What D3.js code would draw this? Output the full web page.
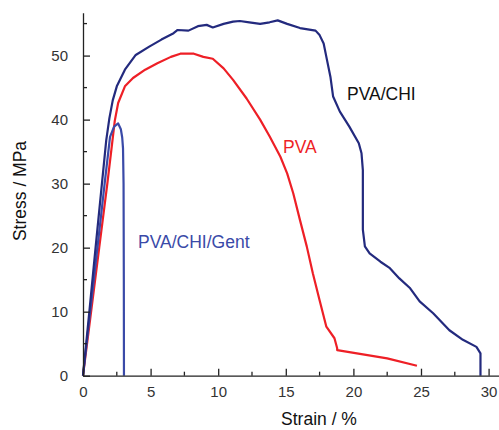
<!DOCTYPE html>
<html>
<head>
<meta charset="utf-8">
<script src="https://cdn.jsdelivr.net/npm/d3@7"></script>
<style>
  html, body { margin: 0; padding: 0; background: #fff; }
  svg { display: block; }
  text { font-family: "Liberation Sans", Arial, sans-serif; }
</style>
</head>
<body>
<svg id="chart" width="499" height="430"></svg>
<script>
// ---- Data (strain %, stress MPa) ----
const pvaChiStrain = [0, 0.47, 0.93, 1.4, 1.72, 1.95, 2.2, 2.5, 3.1, 3.9, 4.9, 5.8, 6.7, 7.0, 7.8, 8.5, 9.15, 9.6, 10.4, 11.1, 11.6, 12.3, 13.1, 13.8, 14.4, 15.1, 16.05, 17.2, 17.5, 17.8, 18.0, 18.3, 18.5, 19.0, 19.7, 20.4, 20.6, 20.7, 20.7, 20.85, 21.2, 22.0, 22.7, 23.4, 24.2, 24.9, 25.9, 27.1, 28.1, 29.1, 29.4, 29.4];
const pvaChiStress = [0, 10, 20, 30, 36.8, 40.2, 43, 45.2, 47.8, 50.1, 51.4, 52.5, 53.5, 54.0, 53.9, 54.6, 54.8, 54.4, 54.95, 55.3, 55.4, 55.2, 54.95, 55.2, 55.5, 54.95, 54.3, 53.9, 53.2, 51.9, 49.8, 46.7, 43.6, 41.25, 38.9, 36.3, 34.75, 32.1, 22.8, 20.2, 19.1, 17.8, 16.8, 15.2, 13.65, 11.6, 9.75, 7.1, 5.6, 4.5, 3.5, 0];

const pvaStrain = [0, 0.6, 1.2, 1.8, 2.1, 2.35, 2.6, 3.1, 3.7, 4.6, 5.5, 6.5, 7.2, 8.2, 8.9, 9.6, 10.4, 11.1, 12.1, 13.1, 13.8, 14.6, 15.1, 15.55, 16.05, 16.55, 17.0, 17.5, 18.0, 18.6, 18.8, 18.8, 22.5, 24.7];
const pvaStress = [0, 10, 20, 30, 35.3, 39.8, 42.6, 45.2, 46.5, 47.8, 48.8, 49.8, 50.3, 50.3, 49.8, 49.5, 48.0, 46.2, 43.3, 40.0, 37.4, 34.2, 31.6, 28.5, 24.3, 20.2, 16.0, 11.8, 7.65, 5.85, 4.3, 4.0, 2.7, 1.55];

const gentStrain = [0, 0.53, 1.07, 1.6, 2.0, 2.3, 2.6, 2.8, 2.9, 2.96, 3.0, 3.02, 3.03];
const gentStress = [0, 10, 20, 30, 37.3, 38.9, 39.4, 38.5, 37.2, 35.5, 30, 15, 0];

const seriesNames = ["PVA/CHI", "PVA", "PVA/CHI/Gent"];
const xTicks = [0, 5, 10, 15, 20, 25, 30];
const xMinorTicks = [2.5, 7.5, 12.5, 17.5, 22.5, 27.5];
const yTicks = [0, 10, 20, 30, 40, 50];
const yMinorTicks = [5, 15, 25, 35, 45, 55];

// ---- Layout ----
const svg = d3.select("#chart");
const x = d3.scaleLinear().domain([0, 30.77]).range([83, 499]);
const y = d3.scaleLinear().domain([0, 56.7]).range([375.7, 12.7]);

const colors = { "PVA/CHI": "#232a7e", "PVA": "#ee1f26", "PVA/CHI/Gent": "#3a4aa8" };

const zip = (xs, ys) => xs.map((v, i) => [v, ys[i]]);
const series = [
  { name: "PVA", pts: zip(pvaStrain, pvaStress) },
  { name: "PVA/CHI/Gent", pts: zip(gentStrain, gentStress) },
  { name: "PVA/CHI", pts: zip(pvaChiStrain, pvaChiStress) }
];

const line = d3.line().x(d => x(d[0])).y(d => y(d[1])).curve(d3.curveLinear);

svg.append("g").selectAll("path").data(series).join("path")
  .attr("d", d => line(d.pts))
  .attr("fill", "none")
  .attr("stroke", d => colors[d.name])
  .attr("stroke-width", 2.2)
  .attr("stroke-linejoin", "round");

// ---- Axes ----
const axisColor = "#222";
const labelColor = "#333";

const xAxis = svg.append("g").attr("transform", `translate(0,${y(0)})`)
  .call(d3.axisBottom(x).tickValues(xTicks).tickSizeInner(-7).tickSizeOuter(0).tickPadding(11));
xAxis.select(".domain").attr("stroke", axisColor).attr("stroke-width", 1.3);
xAxis.selectAll(".tick line").attr("stroke", axisColor).attr("stroke-width", 1.3);
xAxis.selectAll(".tick text").attr("fill", labelColor).style("font-size", "15px")
  .style("font-family", "'Liberation Sans', Arial, sans-serif");
svg.append("g").selectAll("line").data(xMinorTicks).join("line")
  .attr("x1", d => x(d)).attr("x2", d => x(d))
  .attr("y1", y(0)).attr("y2", y(0) - 4)
  .attr("stroke", axisColor).attr("stroke-width", 1.3);

const yAxis = svg.append("g").attr("transform", `translate(${x(0)},0)`)
  .call(d3.axisLeft(y).tickValues(yTicks).tickSizeInner(-7).tickSizeOuter(0).tickPadding(15));
yAxis.select(".domain").attr("stroke", axisColor).attr("stroke-width", 1.3);
yAxis.selectAll(".tick line").attr("stroke", axisColor).attr("stroke-width", 1.3);
yAxis.selectAll(".tick text").attr("fill", labelColor).style("font-size", "15px")
  .style("font-family", "'Liberation Sans', Arial, sans-serif");
svg.append("g").selectAll("line").data(yMinorTicks).join("line")
  .attr("x1", x(0)).attr("x2", x(0) + 4)
  .attr("y1", d => y(d)).attr("y2", d => y(d))
  .attr("stroke", axisColor).attr("stroke-width", 1.3);

// ---- Axis titles ----
svg.append("text").attr("x", 319).attr("y", 425).attr("text-anchor", "middle")
  .attr("fill", "#111").style("font-size", "17.5px").text("Strain / %");
svg.append("text").attr("transform", "translate(26,191) rotate(-90)").attr("text-anchor", "middle")
  .attr("fill", "#111").style("font-size", "17.5px").text("Stress / MPa");

// ---- Series labels ----
const labels = [
  { name: seriesNames[0], lx: 347, ly: 100, fill: "#111" },
  { name: seriesNames[1], lx: 283, ly: 153, fill: colors["PVA"] },
  { name: seriesNames[2], lx: 138, ly: 248, fill: colors["PVA/CHI/Gent"] }
];
svg.append("g").selectAll("text").data(labels).join("text")
  .attr("x", d => d.lx).attr("y", d => d.ly)
  .attr("fill", d => d.fill).style("font-size", "17.5px")
  .text(d => d.name);
</script>
</body>
</html>
